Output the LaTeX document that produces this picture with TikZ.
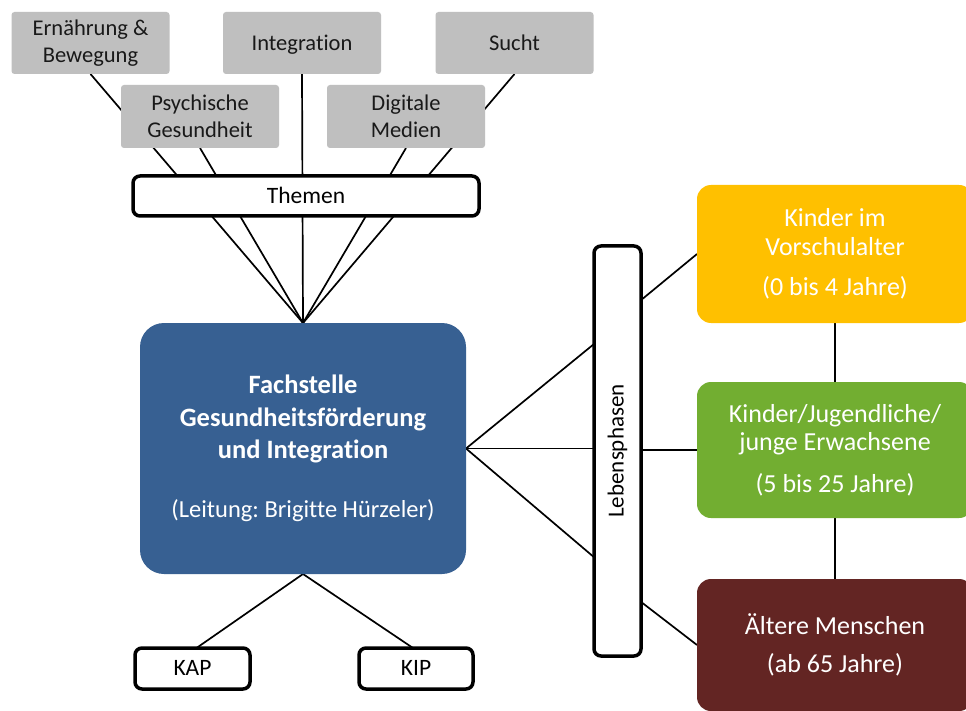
\documentclass[tikz,border=0pt]{standalone}
\usepackage{fontspec}
\setmainfont{Carlito}[Ligatures=NoCommon]
\frenchspacing
\usetikzlibrary{calc,backgrounds}
\definecolor{themegray}{RGB}{191,191,191}
\definecolor{fblue}{RGB}{55,96,146}
\definecolor{kyellow}{RGB}{255,192,0}
\definecolor{kgreen}{RGB}{114,174,49}
\definecolor{kred}{RGB}{99,37,35}
\begin{document}
\begin{tikzpicture}[x=1pt,y=-1pt,
  themebox/.style={fill=themegray, rounded corners=3pt, minimum width=158pt, minimum height=62pt, inner sep=0pt, outer sep=0pt, align=center, font=\fontsize{22.5}{27}\selectfont, text=black!90},
  oneline/.style={text height=14.5pt, text depth=0pt},
  framebox/.style={draw=black, line width=3.5pt, fill=white, rounded corners=7pt, inner sep=0pt, outer sep=0pt, font=\fontsize{23.5}{28}\selectfont},
  phasebox/.style={rounded corners=14pt, minimum width=276pt, inner sep=0pt, outer sep=0pt, align=center, text=white, font=\fontsize{26}{28.5}\selectfont},
  conn/.style={draw=black, line width=1.7pt}
]
\useasboundingbox (0,0) rectangle (966,711);
\clip (0,0) rectangle (966,711);

% theme boxes
\node[themebox] (ern) at (90.5,43) {Ernährung \&\\Bewegung};
\node[themebox, oneline] (int) at (302,43) {Integration};
\node[themebox, oneline] (sucht) at (514.5,43) {Sucht};
\node[themebox, minimum height=63pt] (psy) at (200,116.5) {Psychische\\Gesundheit};
\node[themebox, minimum height=63pt] (dig) at (406,116.5) {Digitale\\Medien};
\node[framebox, oneline, minimum width=346pt, minimum height=40pt] (themen) at (306,196) {Themen};

% central box
\node[fill=fblue, rounded corners=24pt, minimum width=326pt, minimum height=251pt, inner sep=0pt, outer sep=0pt, align=center, text=white, font=\fontsize{26.5}{32.5}\selectfont] (fach) at (303,448.5)
  {\textbf{Fachstelle}\\\textbf{Gesundheitsförderung}\\\textbf{und Integration}\\[26pt]{\fontsize{24.5}{30}\selectfont(Leitung: Brigitte Hürzeler)}};

% bottom boxes
\node[framebox, oneline, minimum width=115pt, minimum height=41pt] (kap) at (192.5,668.5) {KAP};
\node[framebox, oneline, minimum width=114pt, minimum height=41pt] (kip) at (416,668.5) {KIP};

% Lebensphasen
\node[framebox, minimum width=47pt, minimum height=410pt] (leb) at (617.5,451) {};
\node[rotate=90, inner sep=0pt, font=\fontsize{23}{27}\selectfont] (lebt) at (leb.center) {Lebensphasen};

% phase boxes
\node[phasebox, fill=kyellow, minimum height=138pt] (yel) at (835,254) {Kinder im\\Vorschulalter\\[12pt](0 bis 4 Jahre)};
\node[phasebox, fill=kgreen, minimum height=136pt] (grn) at (835,450) {Kinder/Jugendliche/\\junge Erwachsene\\[13pt](5 bis 25 Jahre)};
\node[phasebox, fill=kred, minimum height=132pt] (red) at (835,645) {Ältere Menschen\\[9.5pt](ab 65 Jahre)};

\begin{scope}[on background layer]
  \fill[white] (0,0) rectangle (966,711);
  \draw[conn] (ern.south) -- (fach.north);
  \draw[conn] (psy.south) -- (fach.north);
  \draw[conn] (int.south) -- (fach.north);
  \draw[conn] (dig.south) -- (fach.north);
  \draw[conn] (sucht.south) -- (fach.north);
  \draw[conn] (fach.south) -- ($(kap.north)+(4,0)$);
  \draw[conn] (fach.south) -- ($(kip.north)+(-3,0)$);
  \draw[conn] (fach.east) -- ($(leb.north west)!0.239!(leb.south west)$);
  \draw[conn] (fach.east) -- (fach.east -| leb.west);
  \draw[conn] (fach.east) -- ($(leb.north west)!0.759!(leb.south west)$);
  \draw[conn] ($(leb.north east)!0.132!(leb.south east)$) -- (yel.west);
  \draw[conn] (grn.west -| leb.east) -- (grn.west);
  \draw[conn] ($(leb.north east)!0.868!(leb.south east)$) -- (red.west);
  \draw[conn] (yel.south) -- (grn.north);
  \draw[conn] (grn.south) -- (red.north);
\end{scope}
\end{tikzpicture}
\end{document}
